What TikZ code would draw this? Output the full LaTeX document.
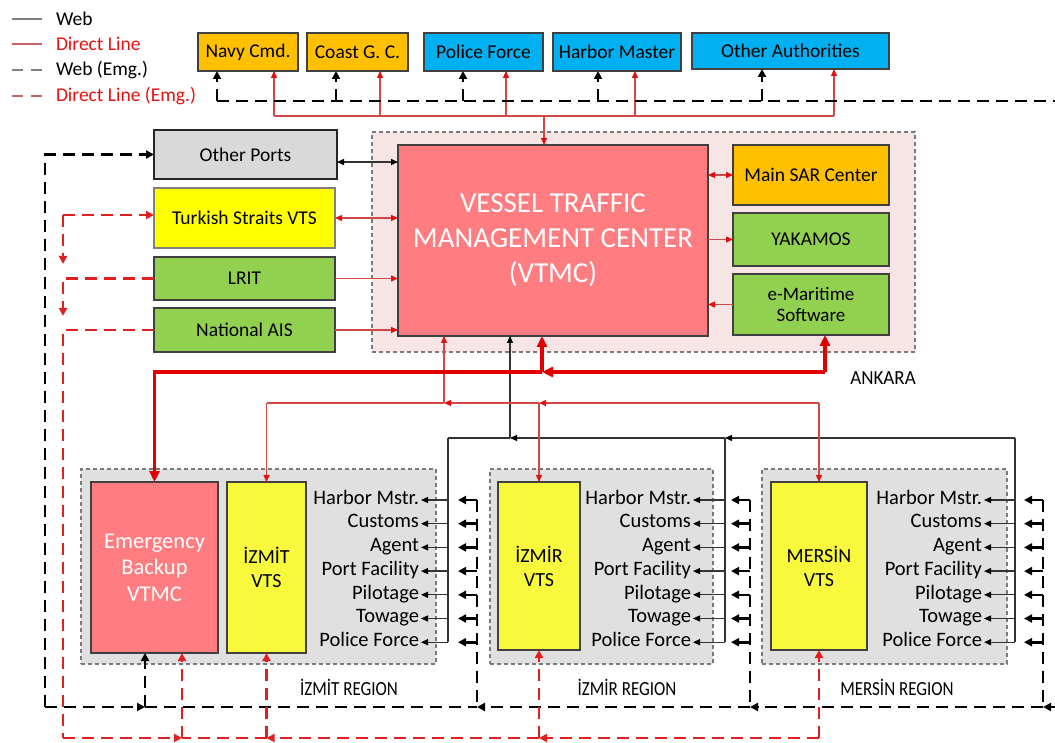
\documentclass[tikz,border=0pt]{standalone}
\usepackage{fontspec}
\usepackage{graphicx}
\setmainfont{Carlito}
\usetikzlibrary{arrows.meta}

\definecolor{amber}{HTML}{FFC000}
\definecolor{skyblue}{HTML}{00B0F0}
\definecolor{leaf}{HTML}{92D050}
\definecolor{salmon}{HTML}{FF7C80}
\definecolor{lemon}{HTML}{F8F83C}
\definecolor{straits}{HTML}{FFFF00}
\definecolor{ashbox}{HTML}{D9D9D9}
\definecolor{regionfill}{HTML}{E0E0E0}
\definecolor{ankarafill}{HTML}{F7E4E4}
\definecolor{edge}{HTML}{404040}
\definecolor{framegray}{HTML}{7A7A7A}
\definecolor{webcol}{HTML}{333333}
\definecolor{dlcol}{HTML}{D04848}
\definecolor{tipred}{HTML}{E01010}
\definecolor{boldred}{HTML}{E00000}
\definecolor{emgred}{HTML}{E02020}
\definecolor{legendgray}{HTML}{808080}
\definecolor{legendred}{HTML}{C86464}
\definecolor{labelred}{HTML}{E81010}

\begin{document}
\begin{tikzpicture}[x=1pt,y=-1pt,
  every node/.style={inner sep=0pt, outer sep=0pt},
  box/.style={draw=edge, line width=1.6pt, align=center, font=\fontsize{19.5}{22}\selectfont},
  frame/.style={draw=framegray, line width=1.6pt, dash pattern=on 4pt off 3pt},
  web/.style={draw=webcol, line width=1.3pt, >={Triangle[length=7pt,width=6pt,color=black]}},
  dl/.style={draw=dlcol, line width=1.3pt, >={Triangle[length=7pt,width=6pt,color=tipred]}},
  dlbold/.style={draw=boldred, line width=3.4pt, >={Triangle[length=11pt,width=10pt]}},
  webemg/.style={draw=black, line width=2.6pt, dash pattern=on 12pt off 7pt, >={Triangle[length=8pt,width=8pt]}},
  dlemg/.style={draw=emgred, line width=2.6pt, dash pattern=on 12pt off 7pt, >={Triangle[length=8pt,width=8pt]}},
  item/.style={anchor=east, inner sep=2pt, text height=13pt, text depth=4.5pt, font=\fontsize{20.5}{22}\selectfont},
  caption/.style={font=\fontsize{20}{22}\selectfont},
  legtext/.style={anchor=west, font=\fontsize{19.5}{22}\selectfont}
]
\useasboundingbox (0,0) rectangle (1055,743);
\fill[white] (0,0) rectangle (1055,743);

% ---------- legend ----------
\draw[legendgray, line width=2.5pt] (12,19) -- (42,19);
\draw[legendred, line width=2.5pt] (12,44) -- (42,44);
\draw[legendgray, line width=2.5pt, dash pattern=on 11pt off 8pt] (12,70) -- (42,70);
\draw[legendred, line width=2.5pt, dash pattern=on 11pt off 8pt] (12,96) -- (42,96);
\node[legtext] (lgweb) at (56,19) {Web};
\node[legtext, text=labelred] (lgdl) at (56,44) {Direct Line};
\node[legtext] (lgwebemg) at (56,70) {Web (Emg.)};
\node[legtext, text=labelred] (lgdlemg) at (56,96) {Direct Line (Emg.)};

% ---------- group frames ----------
\node[frame, fill=ankarafill, minimum width=543pt, minimum height=220pt] (ankara) at (643.5,242) {};
\node[frame, fill=regionfill, minimum width=355pt, minimum height=195pt] (izmitR) at (258.5,566.5) {};
\node[frame, fill=regionfill, minimum width=223pt, minimum height=195pt] (izmirR) at (601.5,566.5) {};
\node[frame, fill=regionfill, minimum width=245pt, minimum height=195pt] (mersinR) at (884.5,566.5) {};

\node[caption] (ankaralbl) at (883,378) {\scalebox{0.95}[1]{ANKARA}};
\node[caption] (izmitlbl) at (349,687) {\scalebox{0.85}[1]{İZMİT REGION}};
\node[caption] (izmirlbl) at (627,687) {\scalebox{0.85}[1]{İZMİR REGION}};
\node[caption] (mersinlbl) at (897,687) {\scalebox{0.85}[1]{MERSİN REGION}};

% ---------- authorities ----------
\node[box, fill=amber, minimum width=100pt, minimum height=38pt] (navy) at (248,52) {Navy Cmd.};
\node[box, fill=amber, minimum width=101pt, minimum height=38pt] (coast) at (357.5,52) {Coast G. C.};
\node[box, fill=skyblue, minimum width=119pt, minimum height=38pt] (police) at (483.5,52) {Police Force};
\node[box, fill=skyblue, minimum width=128pt, minimum height=38pt] (harbor) at (617,52) {Harbor Master};
\node[box, fill=skyblue, minimum width=197pt, minimum height=36pt] (other) at (790.5,51) {Other Authorities};

% ---------- left column ----------
\node[box, fill=ashbox, draw=black!85, minimum width=183pt, minimum height=49pt] (others) at (245.5,154.5) {Other Ports};
\node[box, fill=straits, draw=gray, minimum width=181pt, minimum height=60pt] (tsvts) at (244.5,218) {Turkish Straits VTS};
\node[box, fill=leaf, minimum width=181pt, minimum height=43pt] (lrit) at (244.5,278.5) {LRIT};
\node[box, fill=leaf, minimum width=181pt, minimum height=44pt] (ais) at (244.5,330) {National AIS};

% ---------- Ankara centre ----------
\node[box, fill=salmon, text=white, minimum width=310pt, minimum height=191pt,
      font=\fontsize{29}{35}\selectfont] (vtmc) at (553,240.5)
      {VESSEL TRAFFIC\\MANAGEMENT CENTER\\(VTMC)};
\node[box, fill=amber, minimum width=156pt, minimum height=60pt] (sar) at (811,175) {Main SAR Center};
\node[box, fill=leaf, minimum width=156pt, minimum height=53pt] (yakamos) at (811,239.5) {YAKAMOS};
\node[box, fill=leaf, minimum width=156pt, minimum height=61pt,
      font=\fontsize{19}{21}\selectfont] (emar) at (811,304.5) {e-Maritime\\Software};

% ---------- regional centres ----------
\node[box, fill=salmon, text=white, minimum width=127pt, minimum height=171pt,
      font=\fontsize{22.5}{26.5}\selectfont] (emergency) at (154.5,567.5) {Emergency\\Backup\\VTMC};
\node[box, fill=lemon, minimum width=79pt, minimum height=171pt,
      font=\fontsize{20}{24}\selectfont] (izmitvts) at (266.5,567.5) {İZMİT\\VTS};
\node[box, fill=lemon, minimum width=82pt, minimum height=168pt,
      font=\fontsize{20}{24}\selectfont] (izmirvts) at (539,566) {İZMİR\\VTS};
\node[box, fill=lemon, minimum width=96pt, minimum height=168pt,
      font=\fontsize{20}{24}\selectfont] (mersinvts) at (819,566) {MERSİN\\VTS};

% ---------- local stakeholders, their web bus and emergency bus ----------
\foreach \r/\tx/\bx/\ex in {izmit/421/448/477, izmir/693/725/750, mersin/984/1015/1043} {
  \coordinate (\r-web) at (\bx,438);
  \coordinate (\r-emg) at (\ex,707);
  \coordinate (\r-emgtop) at (\ex,500);
  \foreach \lab [count=\i] in {Harbor Mstr., Customs, Agent, Port Facility, Pilotage, Towage, Police Force} {
    \node[item] (\r-\i) at (\tx,{476.3+23.7*\i}) {\lab};
    \coordinate (\r-wb\i) at (\bx,{476.3+23.7*\i});
    \coordinate (\r-eb\i) at (\ex,{476.3+23.7*\i});
    \coordinate (\r-et\i) at ({\ex-19},{476.3+23.7*\i});
    \draw[web,->] (\r-wb\i) -- (\r-\i.east);
    \draw[webemg,->] (\r-eb\i) -- (\r-et\i);
  }
  \draw[web] (\r-web) -- (\r-wb7);
  \draw[webemg] (\r-emgtop) -- (\r-emg);
}

% ---------- web links ----------
\coordinate (hubvtmc) at (510,438);
\draw[web,->] (mersin-web) -- (izmir-web);
\draw[web,->] (izmir-web) -- (hubvtmc);
\draw[web] (hubvtmc) -- (izmit-web);
\draw[web,->] (hubvtmc) -- (vtmc.south -| hubvtmc);
\coordinate (opl) at ([yshift=-7.5pt]others.east);
\draw[web,<->] (opl) -- (vtmc.west |- opl);

% ---------- direct lines ----------
\draw[dl,<->] (tsvts.east) -- (vtmc.west |- tsvts.east);
\draw[dl,->] (lrit.east) -- (vtmc.west |- lrit.east);
\draw[dl,->] (ais.east) -- (vtmc.west |- ais.east);
\draw[dl,<->] (vtmc.east |- sar.west) -- (sar.west);
\draw[dl,->] (vtmc.east |- yakamos.west) -- (yakamos.west);
\draw[dl,->] (emar.west) -- (vtmc.east |- emar.west);

\foreach \n/\x in {navy/274, coast/380, police/506, harbor/635, other/834} {
  \coordinate (\n-d) at (\x,116);
  \draw[dl,->] (\n-d) -- (\n.south -| \n-d);
}
\draw[dl] (navy-d) -- (other-d);
\coordinate (vtmc-d) at (544,116);
\draw[dl,->] (vtmc-d) -- (vtmc.north -| vtmc-d);

\coordinate (redA) at (444,403);
\coordinate (redB) at (539,403);
\coordinate (redC) at (819,403);
\coordinate (redD) at (266.5,403);
\draw[dl,->] (redC) -- (redB);
\draw[dl,->] (redB) -- (redA);
\draw[dl] (redA) -- (redD);
\draw[dl,->] (redA) -- (vtmc.south -| redA);
\draw[dl,->] (redD) -- (izmitvts.north);
\draw[dl,->] (redB) -- (izmirvts.north);
\draw[dl,->] (redC) -- (mersinvts.north);

\coordinate (boldhub) at (542,372);
\coordinate (boldright) at (825,372);
\draw[dlbold,->] (boldright) -- (boldhub);
\draw[dlbold,->] (boldhub) -- (vtmc.south -| boldhub);
\draw[dlbold,->] (boldright) -- (emar.south -| boldright);
\draw[dlbold,->] (boldhub) -| (emergency.north);

% ---------- emergency web ----------
\coordinate (topweb) at (217,101);
\coordinate (topwebend) at (1055,101);
\draw[webemg] (topweb) -- (topwebend);
\foreach \n/\x in {navy/217, coast/336, police/463, harbor/598, other/762} {
  \coordinate (\n-e) at (\x,101);
  \draw[webemg,->] (\n-e) -- (\n.south -| \n-e);
}
\coordinate (leftcorner) at (45,707);
\coordinate (embus) at (145,707);
\coordinate (rightedge) at (1055,707);
\draw[webemg,->] (leftcorner) |- (others.west);
\draw[webemg,->] (leftcorner) -- (embus);
\draw[webemg,->] (embus) -- (emergency.south -| embus);
\draw[webemg] (embus) -- (izmit-emg);
\draw[webemg,->] (izmir-emg) -- (izmit-emg);
\draw[webemg,->] (mersin-emg) -- (izmir-emg);
\draw[webemg,->] (rightedge) -- (mersin-emg);

% ---------- emergency direct lines ----------
\coordinate (rcorner) at (63,215);
\coordinate (rdrop1) at (63,264);
\coordinate (rdrop2) at (63,316);
\coordinate (rbottom) at (63,738);
\coordinate (remerg) at (182,738);
\coordinate (rizmit) at (266.5,738);
\coordinate (rizmir) at (539,738);
\coordinate (rmersin) at (819,738);
\draw[dlemg,->] (rcorner) -- (tsvts.west |- rcorner);
\draw[dlemg,->] (rcorner) -- (rdrop1);
\draw[dlemg,->] (lrit.west) -| (rdrop2);
\draw[dlemg] (ais.west) -| (rbottom);
\draw[dlemg,->] (rbottom) -- (remerg);
\draw[dlemg,->] (remerg) -- (emergency.south -| remerg);
\draw[dlemg,->] (rmersin) -- (rizmir);
\draw[dlemg,->] (rizmir) -- (rizmit);
\draw[dlemg] (rizmit) -- (remerg);
\draw[dlemg,->] (rizmit) -- (izmitvts.south);
\draw[dlemg,->] (rizmir) -- (izmirvts.south);
\draw[dlemg,->] (rmersin) -- (mersinvts.south);
\end{tikzpicture}
\end{document}
